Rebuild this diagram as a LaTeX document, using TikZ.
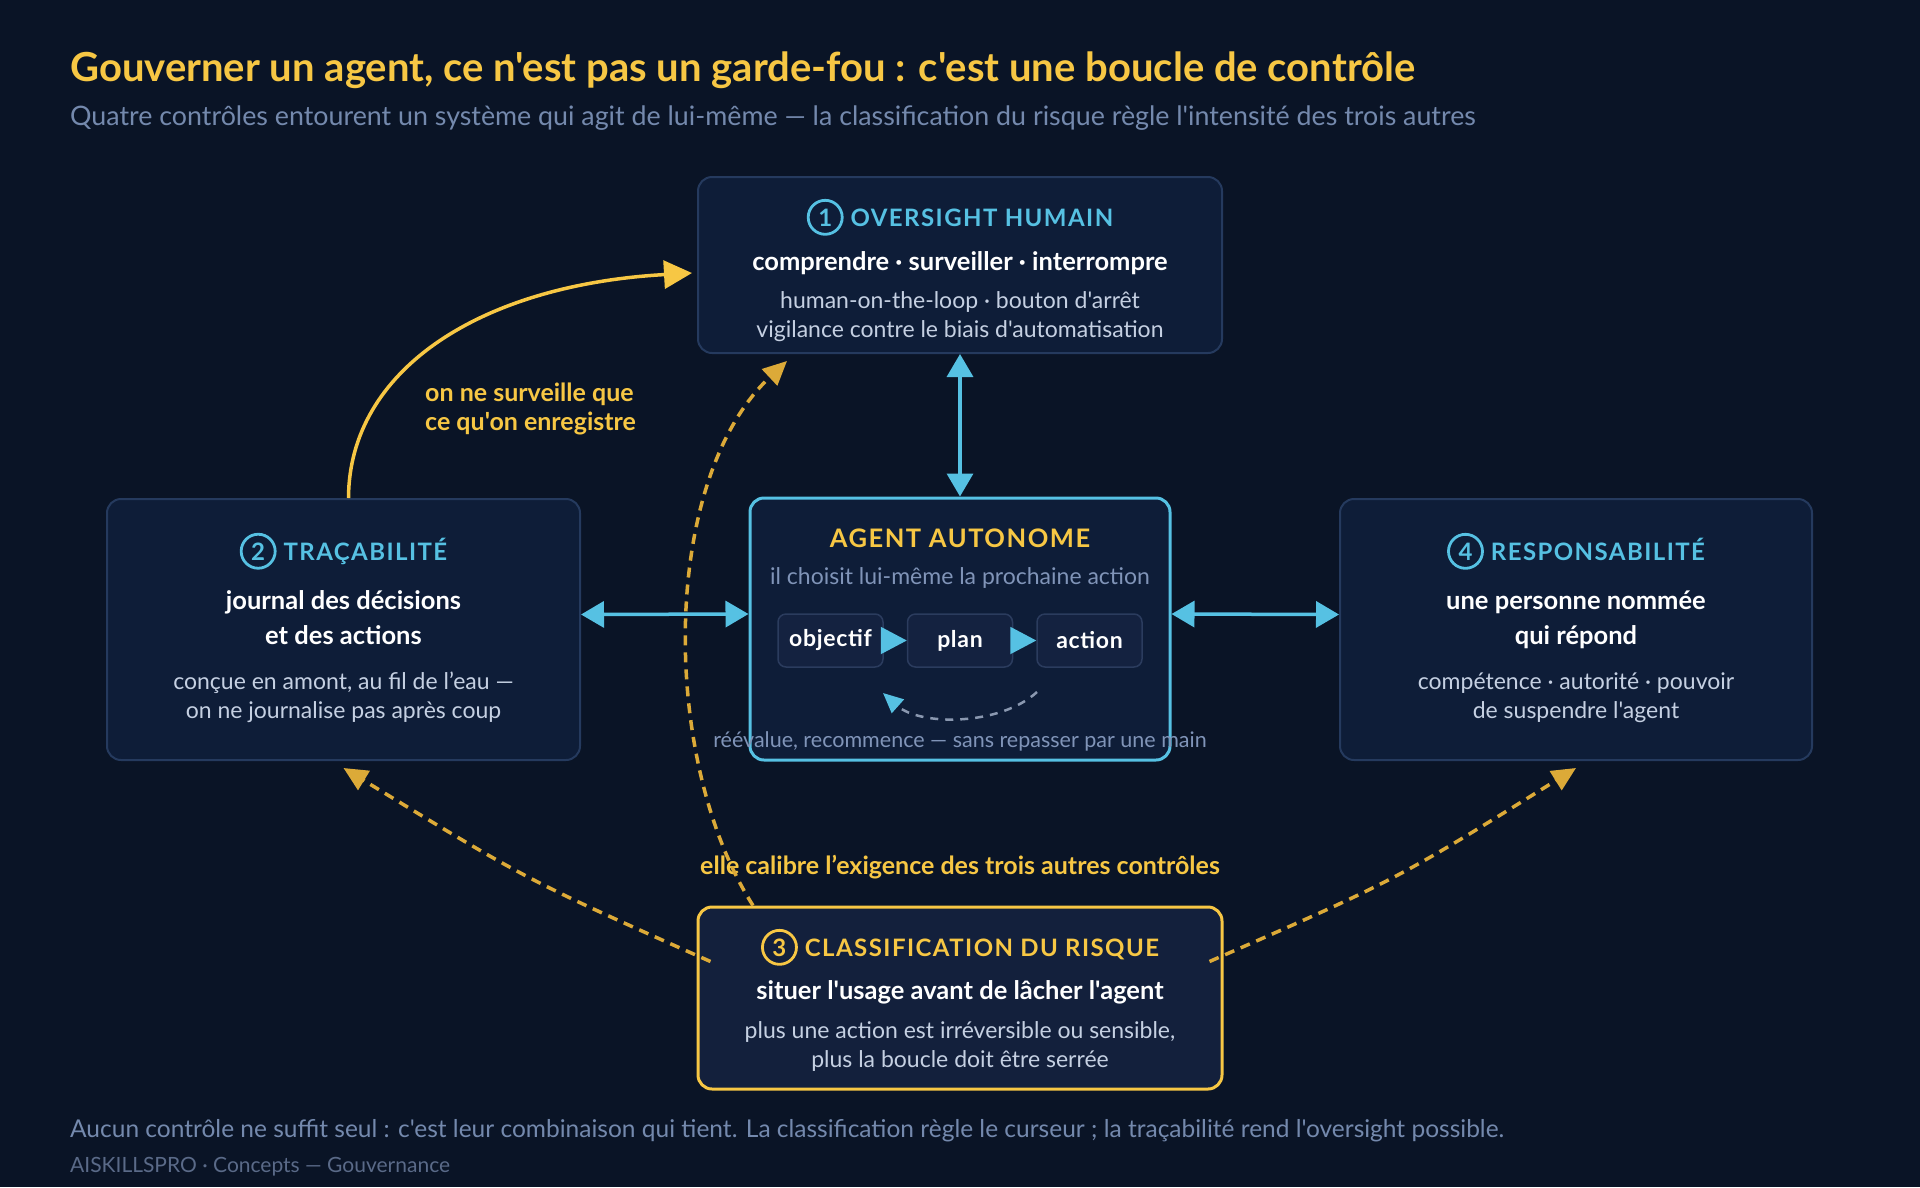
\documentclass[tikz,border=0pt]{standalone}
\usepackage{fontspec}
\setmainfont{Lato}[Ligatures=TeXOff]
\newfontfamily\capsfont{Lato}[Ligatures=TeXOff,LetterSpace=6]
\newfontfamily\boxfont{Lato}[Ligatures=TeXOff,LetterSpace=3]
\usetikzlibrary{arrows.meta}
\definecolor{bg}{HTML}{0A1426}
\definecolor{boxfill}{HTML}{0E1D38}
\definecolor{boxline}{HTML}{253A5E}
\definecolor{riskfill}{HTML}{13203C}
\definecolor{infill}{HTML}{142240}
\definecolor{inline}{HTML}{2B3C5E}
\definecolor{cyanc}{HTML}{56C1E3}
\definecolor{yel}{HTML}{F7C744}
\definecolor{ydash}{HTML}{DCAA38}
\definecolor{detailc}{HTML}{C5D0E2}
\definecolor{subc}{HTML}{7489AD}
\definecolor{agsub}{HTML}{8094B8}
\definecolor{retgray}{HTML}{8A98B0}
\definecolor{creditc}{HTML}{5A6A88}
\newcommand\circnum[2]{\tikz[baseline=(cn.base)]\node[circle, draw=#2, line width=2.8pt, inner sep=0pt, minimum size=34pt, text=#2, font=\normalfont\bfseries\fontsize{24}{24}\selectfont] (cn) {#1};}
\begin{document}
\begin{tikzpicture}[x=1pt,y=-1pt,
  panel/.style={draw=boxline, line width=2pt, fill=boxfill, rounded corners=14pt, inner sep=0pt},
  agentbox/.style={panel, draw=cyanc, line width=3pt},
  riskbox/.style={panel, draw=yel, line width=3pt, fill=riskfill},
  inbox/.style={draw=inline, line width=1.5pt, fill=infill, rounded corners=8pt, minimum width=105pt, minimum height=53pt, inner sep=0pt, text=white, font=\boxfont\bfseries\fontsize{23}{23}\selectfont},
  hd/.style={anchor=base, inner sep=0pt, font=\capsfont\bfseries\fontsize{24}{28}\selectfont},
  strong/.style={anchor=base, inner sep=0pt, text=white, font=\bfseries\fontsize{25.5}{29}\selectfont},
  detail/.style={anchor=base, inner sep=0pt, text=detailc, font=\fontsize{23}{27}\selectfont},
  cyarrow/.style={color=cyanc, line width=3.5pt, {Triangle[length=23pt,width=26pt,fill=cyanc]}-{Triangle[length=23pt,width=26pt,fill=cyanc]}},
  yarrow/.style={color=yel, line width=3.5pt, -{Triangle[length=28pt,width=28pt,fill=yel]}},
  ydashed/.style={color=ydash, line width=3.5pt, dash pattern=on 10pt off 7pt, -{Triangle[length=24pt,width=22pt,fill=ydash]}},
  flowtip/.style={color=cyanc, line width=2pt, -{Triangle[length=26pt,width=27pt,fill=cyanc]}},
  ylabel/.style={inner sep=0pt, text=yel, font=\bfseries\fontsize{25}{29}\selectfont},
  ]
\useasboundingbox (0,0) rectangle (1920,1187);
\fill[bg] (0,0) rectangle (1920,1187);

% header
\node[anchor=base west, inner sep=0pt, text=yel, font=\bfseries\fontsize{40}{44}\selectfont] (title) at (70,81) {Gouverner un agent, ce n'est pas un garde-fou : c'est une boucle de contrôle};
\node[anchor=base west, inner sep=0pt, text=subc, font=\fontsize{26.8}{30}\selectfont] (subtitle) at (70,125) {Quatre contrôles entourent un système qui agit de lui-même — la classification du risque règle l'intensité des trois autres};

% boxes
\node[panel, minimum width=524pt, minimum height=176pt] (ov) at (960,265) {};
\node[agentbox, minimum width=420pt, minimum height=262pt] (ag) at (960,629) {};
\node[panel, minimum width=473pt, minimum height=261pt] (tr) at (343.5,629.5) {};
\node[panel, minimum width=472pt, minimum height=261pt] (rs) at (1576,629.5) {};
\node[riskbox, minimum width=524pt, minimum height=182pt] (cl) at (960,998) {};

% oversight
\node[hd, text=cyanc] (ovt) at (960,226) {\circnum{1}{cyanc}\hspace{7pt}OVERSIGHT HUMAIN};
\node[strong] (ovs) at (960,270) {comprendre · surveiller · interrompre};
\node[detail] (ovd1) at (960,308) {human-on-the-loop · bouton d'arrêt};
\node[detail] (ovd2) at (960,337) {vigilance contre le biais d'automatisation};

% agent
\node[hd, text=yel, font=\capsfont\bfseries\fontsize{25.5}{28}\selectfont] (agt) at (960,547) {AGENT AUTONOME};
\node[anchor=base, inner sep=0pt, text=agsub, font=\fontsize{23}{27}\selectfont] (ags) at (960,584) {il choisit lui-même la prochaine action};
\node[inbox] (ob) at (830.5,640.5) {objectif};
\node[inbox] (pl) at (960,640.5) {plan};
\node[inbox] (ac) at (1089.5,640.5) {action};
\draw[flowtip] (ob) -- (pl);
\draw[flowtip] (pl) -- (ac);
\coordinate (r1) at (1037,692);
\coordinate (r2) at (883,693);
\draw[color=retgray, line width=2.5pt, dash pattern=on 8pt off 7pt, -{Triangle[length=20pt,width=18pt,color=cyanc,fill=cyanc]}] (r1) .. controls (1000,726) and (920,726) .. (r2);
\node[anchor=base, inner sep=0pt, text=agsub, font=\fontsize{21.5}{25}\selectfont] (agc) at (960,747.5) {réévalue, recommence — sans repasser par une main};

% tracabilite
\node[hd, text=cyanc] (trt) at (343.5,560) {\circnum{2}{cyanc}\hspace{7pt}TRAÇABILITÉ};
\node[strong] (trs1) at (343.5,609) {journal des décisions};
\node[strong] (trs2) at (343.5,644) {et des actions};
\node[detail] (trd1) at (343.5,689) {conçue en amont, au fil de l’eau —};
\node[detail] (trd2) at (343.5,718) {on ne journalise pas après coup};

% responsabilite
\node[hd, text=cyanc] (rst) at (1576,560) {\circnum{4}{cyanc}\hspace{7pt}RESPONSABILITÉ};
\node[strong] (rss1) at (1576,609) {une personne nommée};
\node[strong] (rss2) at (1576,644) {qui répond};
\node[detail] (rsd1) at (1576,689) {compétence · autorité · pouvoir};
\node[detail] (rsd2) at (1576,718) {de suspendre l'agent};

% classification
\node[hd, text=yel] (clt) at (960,956) {\circnum{3}{yel}\hspace{7pt}CLASSIFICATION DU RISQUE};
\node[strong] (cls) at (960,999) {situer l'usage avant de lâcher l'agent};
\node[detail] (cld1) at (960,1038) {plus une action est irréversible ou sensible,};
\node[detail] (cld2) at (960,1067) {plus la boucle doit être serrée};

% labels
\node[ylabel, anchor=base] (calib) at (960,874) {elle calibre l’exigence des trois autres contrôles};
\node[ylabel, anchor=base west] (lab1) at (425,401) {on ne surveille que};
\node[ylabel, anchor=base west] (lab2) at (425,430) {ce qu'on enregistre};

% cyan connectors
\draw[cyarrow] (ov.south) -- (ag.north);
\draw[cyarrow] ([yshift=15pt]tr.east) -- ([yshift=15pt]ag.west);
\draw[cyarrow] ([yshift=15pt]ag.east) -- ([yshift=15pt]rs.west);

% yellow connectors
\draw[yarrow] ([xshift=5pt]tr.north) .. controls (349,370) and (480,285) .. ([xshift=-5pt,yshift=-8pt]ov.west);
\draw[ydashed] ([xshift=-207pt]cl.north) .. controls (660,760) and (660,480) .. ([xshift=-173pt,yshift=-7pt]ov.south);
\draw[ydashed] ([xshift=14pt,yshift=-56pt]cl.north west) .. controls (527,880) .. ([yshift=-7pt]tr.south);
\draw[ydashed] ([xshift=-14pt,yshift=-56pt]cl.north east) .. controls (1396,880) .. ([yshift=-7pt]rs.south);

% footer
\node[anchor=base west, inner sep=0pt, text=subc, font=\fontsize{24.5}{28}\selectfont] (foot) at (70,1137.5) {Aucun contrôle ne suffit seul : c'est leur combinaison qui tient. La classification règle le curseur ; la traçabilité rend l'oversight possible.};
\node[anchor=base west, inner sep=0pt, text=creditc, font=\fontsize{21}{24}\selectfont] (credit) at (70,1172) {AISKILLSPRO · Concepts — Gouvernance};
\end{tikzpicture}
\end{document}
